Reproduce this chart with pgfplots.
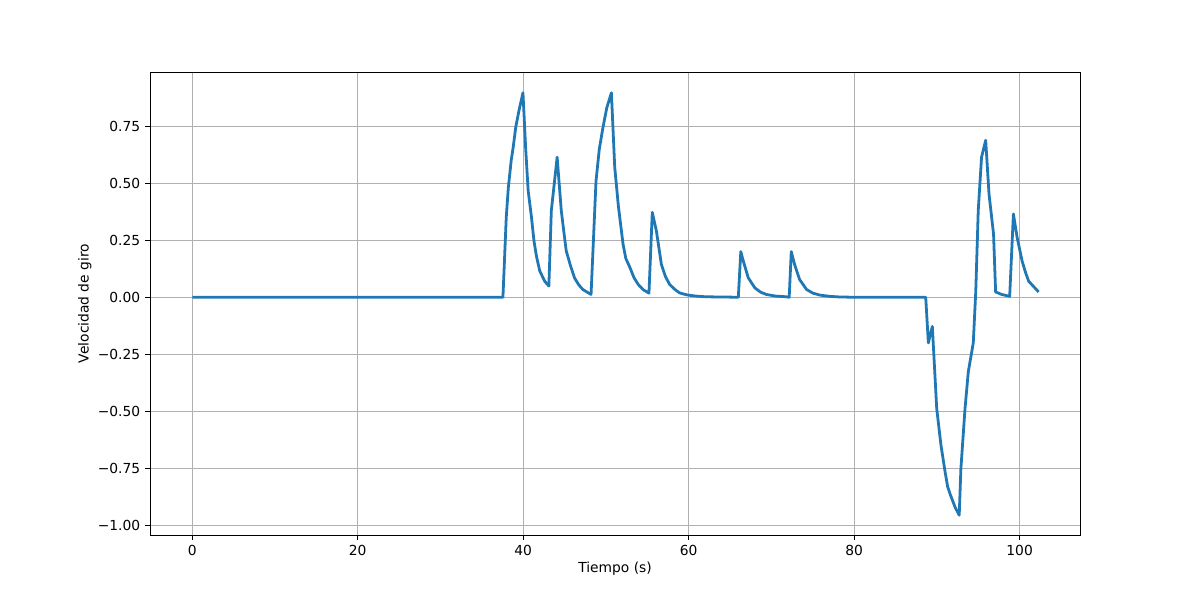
\documentclass[border=0pt]{standalone}
\usepackage{pgfplots}
\pgfplotsset{compat=1.18}
\usepackage{fontspec}
\setmainfont{DejaVu Sans}
\definecolor{mplblue}{HTML}{1F77B4}
\definecolor{mplgrid}{HTML}{B0B0B0}
\begin{document}
\fontsize{8.3}{10}\selectfont
\begin{tikzpicture}[x=1pt,y=1pt]
\useasboundingbox (0,0) rectangle (720,360);
\begin{axis}[
  at={(90pt,39pt)}, anchor=south west,
  scale only axis, width=558pt, height=277.8pt,
  xmin=-5.11, xmax=107.3, ymin=-1.042, ymax=0.987,
  xtick={0,20,40,60,80,100},
  ytick={-1,-0.75,-0.5,-0.25,0,0.25,0.5,0.75},
  yticklabels={−1.00,−0.75,−0.50,−0.25,0.00,0.25,0.50,0.75},
  /pgf/number format/assume math mode=true,
  tick label style={font=\fontsize{8.3}{10}\selectfont},
  label style={font=\fontsize{8.3}{10}\selectfont},
  xlabel={Tiempo (s)}, ylabel={Velocidad de giro},
  grid=major,
  major grid style={color=mplgrid, line width=0.6pt},
  axis line style={line width=0.5pt},
  tick style={line width=0.5pt, black},
  tick align=outside, major tick length=2.9pt,
  xtick pos=bottom, ytick pos=left,
  xticklabel style={yshift=-0.5pt},
  xlabel style={yshift=2pt},
  ylabel style={yshift=-2pt},
]
\addplot[mplblue, line width=1.67pt, line join=round] coordinates {
(0,0) (37.55,0) (37.95,0.35) (38.2,0.48) (38.55,0.6) (38.8,0.66) (39.1,0.746) (39.5,0.82) (39.97,0.896)
(40.3,0.65) (40.6,0.467) (41.0,0.35) (41.3,0.247) (41.6,0.18) (42.0,0.115) (42.6,0.07) (43.1,0.049)
(43.4,0.38) (44.1,0.614) (44.6,0.38) (44.9,0.29) (45.2,0.203) (45.7,0.14) (46.2,0.085) (46.7,0.055) (47.2,0.034) (48.2,0.012)
(48.8,0.51) (49.2,0.65) (49.65,0.746) (50.1,0.83) (50.66,0.896)
(51.06,0.57) (51.5,0.40) (52.07,0.232) (52.4,0.17) (52.9,0.13) (53.4,0.085) (53.9,0.056) (54.5,0.033) (55.2,0.018)
(55.6,0.372) (56.1,0.29) (56.7,0.144) (57.2,0.09) (57.7,0.056) (58.3,0.035) (58.9,0.019) (59.8,0.01) (60.9,0.005) (62,0.002) (66.0,0)
(66.3,0.2) (66.6,0.159) (67.2,0.085) (68.0,0.041) (68.7,0.022) (69.4,0.012) (70.5,0.005) (71.8,0.002) (72.15,0.0)
(72.4,0.2) (72.8,0.144) (73.4,0.078) (74.25,0.034) (75.0,0.018) (75.9,0.009) (77,0.004) (78.3,0.001) (80,0) (88.65,0)
(88.97,-0.2) (89.45,-0.128) (89.98,-0.488) (90.5,-0.65) (91.0,-0.767) (91.3,-0.83) (91.6,-0.863) (92.2,-0.92) (92.7,-0.955)
(92.9,-0.753) (93.4,-0.488) (93.8,-0.326) (94.4,-0.2) (94.7,0.026) (95.0,0.38) (95.4,0.614) (95.9,0.688)
(96.3,0.453) (96.85,0.276) (97.1,0.023) (97.85,0.012) (98.8,0.004)
(99.25,0.365) (99.7,0.262) (100.3,0.159) (100.7,0.11) (101.1,0.07) (102.3,0.023)
};
\end{axis}
\end{tikzpicture}
\end{document}
